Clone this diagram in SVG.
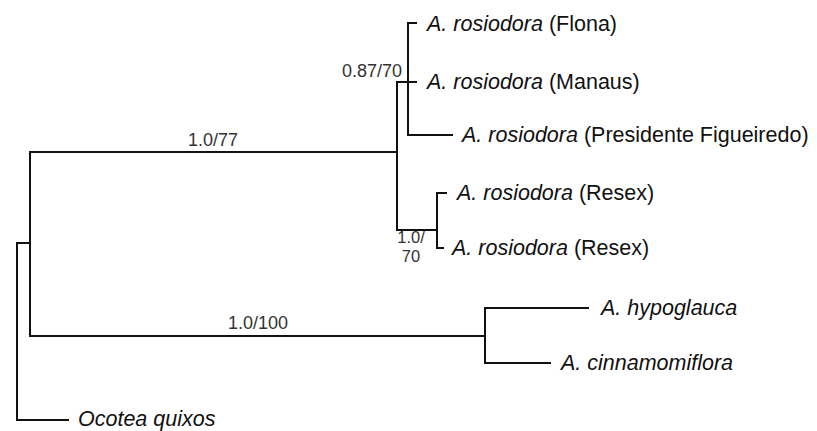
<svg xmlns="http://www.w3.org/2000/svg" width="817" height="431" viewBox="0 0 817 431">
<style>
.br{fill:none;stroke:#111;stroke-width:2;stroke-linecap:square}
.tx{font-family:"Liberation Sans",Arial,sans-serif;font-size:21.5px;fill:#111}
.sp{font-family:"Liberation Sans",Arial,sans-serif;font-size:18px;fill:#333}
.sm{font-size:16.5px}
.it{font-style:italic}
</style>
<rect width="817" height="431" fill="#fff"/>
<g id="connectors">
<path class="br" d="M17,243 H30 M17,243 V420 H68"/>
<path class="br" d="M30,152 V336"/>
<path class="br" d="M30,152 H397 M397,82 V230"/>
<path class="br" d="M397,82 H416 M408,23 V135 M408,23 H416 M408,135 H452"/>
<path class="br" d="M397,230 H437 M437,193 V248 M437,193 H446 M437,248 H443"/>
<path class="br" d="M30,336 H485 M485,308 V363 M485,308 H588 M485,363 H550"/>
</g>
<g id="support">
<text class="sp" x="213" y="146" text-anchor="middle">1.0/77</text>
<text class="sp" x="402" y="77" text-anchor="end">0.87/70</text>
<text class="sp sm" x="411" y="243" text-anchor="middle">1.0/</text>
<text class="sp sm" x="411" y="261.5" text-anchor="middle">70</text>
<text class="sp" x="258" y="329" text-anchor="middle">1.0/100</text>
</g>
<g id="flona"><text class="tx" x="427" y="31"><tspan class="it">A. rosiodora</tspan> (Flona)</text></g>
<g id="manaus"><text class="tx" x="427" y="89"><tspan class="it">A. rosiodora</tspan> (Manaus)</text></g>
<g id="presidente"><text class="tx" x="462" y="142"><tspan class="it">A. rosiodora</tspan> (Presidente Figueiredo)</text></g>
<g id="resex1"><text class="tx" x="457" y="200"><tspan class="it">A. rosiodora</tspan> (Resex)</text></g>
<g id="resex2"><text class="tx" x="452" y="255"><tspan class="it">A. rosiodora</tspan> (Resex)</text></g>
<g id="hypoglauca"><text class="tx it" x="601" y="315">A. hypoglauca</text></g>
<g id="cinnamomiflora"><text class="tx it" x="561" y="370">A. cinnamomiflora</text></g>
<g id="ocotea"><text class="tx it" x="78" y="426">Ocotea quixos</text></g>
</svg>
